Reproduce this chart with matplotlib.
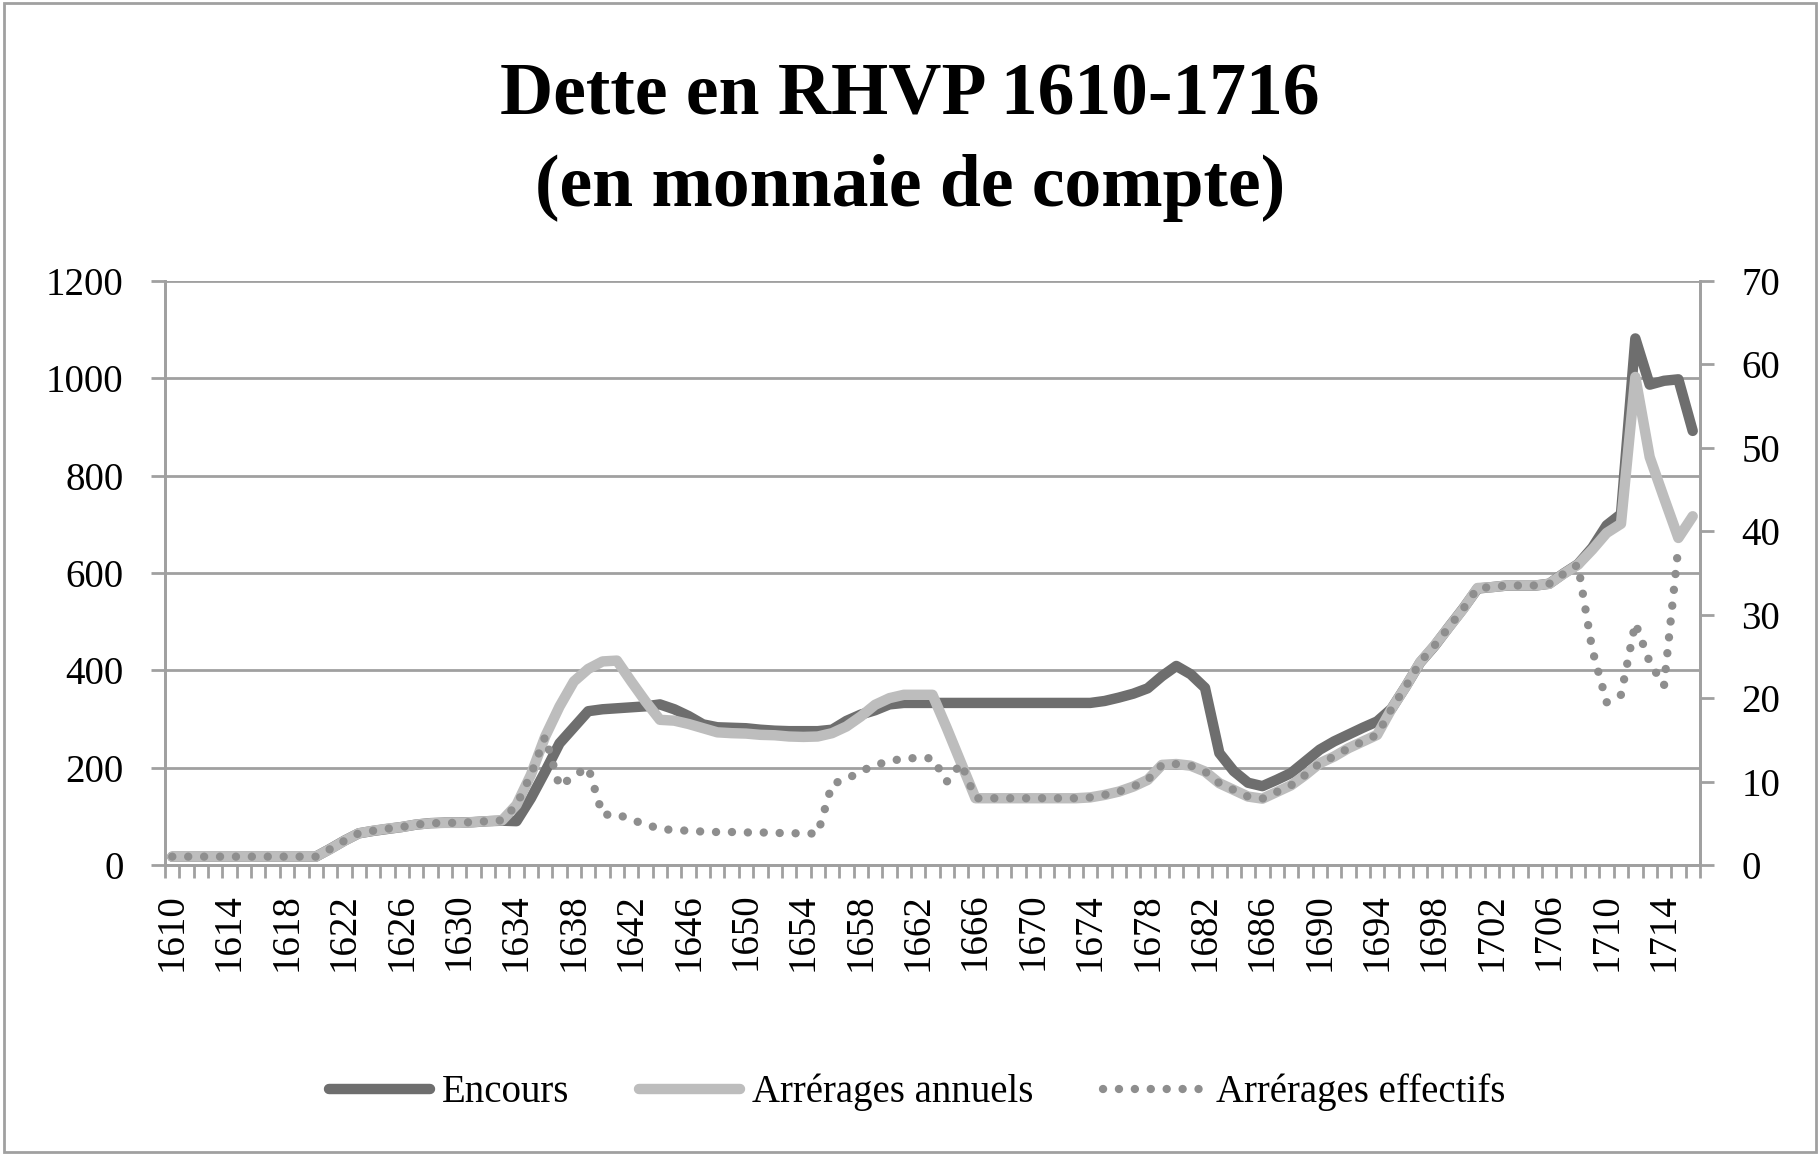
import numpy as np
import matplotlib.pyplot as plt
from matplotlib.patches import Rectangle

plt.rcParams['font.family'] = ['Liberation Serif', 'DejaVu Serif']

# années 1610-1716
years = list(range(1610, 1717))

# encours (axe de gauche)
encours = [17, 17, 17, 17, 17, 17, 17, 17, 17, 17, 17,
           33, 50, 65, 70, 74, 78, 83, 86, 87, 87,
           88, 90, 91, 90, 137, 192, 250, 283, 316, 320,
           322, 324, 326, 330, 320, 306, 289, 283, 282, 281,
           278, 276, 275, 275, 275, 278, 296, 309, 318, 330,
           333, 333, 333, 333, 333, 333, 333, 333, 333, 333,
           333, 333, 333, 333, 337, 344, 352, 363, 388, 409,
           392, 364, 230, 193, 169, 162, 175, 189, 213, 237,
           254, 268, 282, 295, 321, 367, 416, 450, 489, 527,
           568, 571, 574, 574, 574, 578, 599, 618, 652, 698,
           721, 1082, 987, 995, 998, 892]

# arrérages annuels (axe de droite)
arr_annuels = [1.0, 1.0, 1.0, 1.0, 1.0, 1.0, 1.0, 1.0, 1.0, 1.0, 1.0,
               1.9, 2.9, 3.8, 4.1, 4.35, 4.55, 4.85, 5.0, 5.05, 5.05,
               5.15, 5.25, 5.35, 7.2, 10.8, 15.4, 19.0, 22.0, 23.5, 24.4,
               24.5, 22.0, 19.6, 17.4, 17.3, 16.9, 16.4, 15.9, 15.8, 15.75,
               15.6, 15.55, 15.4, 15.35, 15.4, 15.8, 16.6, 17.8, 19.2, 20.0,
               20.4, 20.4, 20.4, 16.4, 12.2, 8.0, 8.0, 8.0, 8.0, 8.0,
               8.0, 8.0, 8.0, 8.1, 8.4, 8.8, 9.4, 10.2, 12.0, 12.1,
               11.9, 11.2, 9.8, 9.0, 8.2, 7.95, 8.75, 9.55, 10.8, 12.2,
               13.0, 14.0, 14.8, 15.6, 18.7, 21.4, 24.3, 26.3, 28.5, 30.7,
               33.2, 33.3, 33.5, 33.5, 33.5, 33.7, 34.9, 36.0, 37.8, 39.8,
               40.9, 58.5, 48.9, 44.0, 39.2, 41.8]

# arrérages effectifs (axe de droite)
arr_effectifs = [1.0, 1.0, 1.0, 1.0, 1.0, 1.0, 1.0, 1.0, 1.0, 1.0, 1.0,
                 1.9, 2.9, 3.8, 4.1, 4.35, 4.55, 4.85, 5.0, 5.05, 5.05,
                 5.15, 5.25, 5.35, 7.2, 10.8, 15.4, 9.4, 10.7, 11.7, 6.0,
                 6.1, 5.4, 4.9, 4.3, 4.2, 4.1, 4.0, 3.95, 3.95, 3.9,
                 3.9, 3.85, 3.8, 3.8, 3.75, 9.7, 10.3, 11.2, 12.0, 12.4,
                 12.8, 12.8, 12.8, 10.0, 12.2, 8.0, 8.0, 8.0, 8.0, 8.0,
                 8.0, 8.0, 8.0, 8.1, 8.4, 8.8, 9.4, 10.2, 12.0, 12.1,
                 11.9, 11.2, 9.8, 9.0, 8.2, 7.95, 8.75, 9.55, 10.8, 12.2,
                 13.0, 14.0, 14.8, 15.6, 18.7, 21.4, 24.3, 26.3, 28.5, 30.7,
                 33.2, 33.3, 33.5, 33.5, 33.5, 33.7, 34.9, 36.0, 25.8, 19.5,
                 20.4, 29.0, 24.3, 21.5, 38.2, np.nan]

left_ticks = [0, 200, 400, 600, 800, 1000, 1200]
right_ticks = [0, 10, 20, 30, 40, 50, 60, 70]

grey = '#a0a0a0'
fs = 28

fig = plt.figure(figsize=(18.2, 11.55), dpi=100)
ax = fig.add_axes([0.0907, 0.2511, 0.8433, 0.5056])
x = np.arange(len(years))

l1, = ax.plot(x, encours, color='#6e6e6e', lw=7.5, solid_joinstyle='round',
              solid_capstyle='round', label='Encours')
ax.set_xlim(-0.5, len(years) - 0.5)
ax.set_ylim(0, 1200)
ax.set_yticks(left_ticks)
ax.yaxis.grid(True, color=grey, lw=2)
ax.set_axisbelow(True)

# graduations de l'axe des x
ax.set_xticks(x[::4])
ax.set_xticklabels([str(y) for y in years[::4]], rotation=90)
ax.set_xticks(np.arange(-0.5, len(years), 1), minor=True)
ax.tick_params(axis='x', which='major', length=0, pad=20, labelsize=fs)
ax.tick_params(axis='x', which='minor', length=9, width=2, color=grey)
ax.tick_params(axis='y', length=10, width=2, color=grey, pad=20, labelsize=fs)

ax2 = ax.twinx()
l2, = ax2.plot(x, arr_annuels, color='#bdbdbd', lw=7.5, solid_joinstyle='round',
               solid_capstyle='round', label='Arrérages annuels')
l3, = ax2.plot(x, arr_effectifs, color='#8e8e8e', lw=6, linestyle=(0, (0.01, 1.9)),
               dash_capstyle='round', label='Arrérages effectifs')
ax2.set_ylim(0, 70)
ax2.set_yticks(right_ticks)
ax2.tick_params(axis='y', length=10, width=2, color=grey, pad=20, labelsize=fs)

for a in (ax, ax2):
    a.spines['top'].set_visible(False)
    for s in ('left', 'right', 'bottom'):
        a.spines[s].set_color(grey)
        a.spines[s].set_linewidth(2)

fig.text(0.5, 0.877, 'Dette en RHVP 1610-1716\n(en monnaie de compte)',
         ha='center', va='center', fontsize=53, fontweight='bold', linespacing=1.45)

fig.legend(handles=[l1, l2, l3], loc='center', bbox_to_anchor=(0.504, 0.054),
           ncol=3, frameon=False, fontsize=fs, handlelength=2.6,
           handletextpad=0.3, columnspacing=1.8)

fig.patches.append(Rectangle((0.002, 0.003), 0.996, 0.994, transform=fig.transFigure,
                             fill=False, edgecolor=grey, lw=2))

fig.savefig('out.png', dpi=100)
